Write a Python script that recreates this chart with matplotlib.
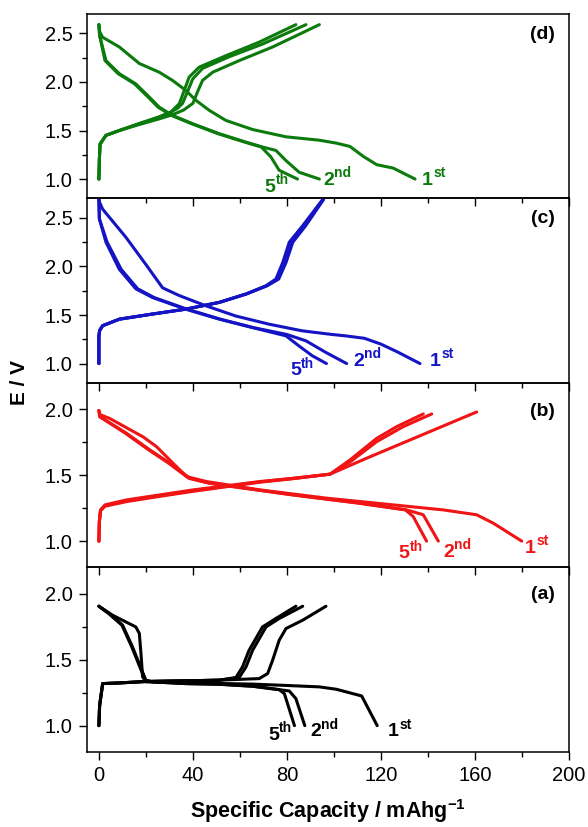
import matplotlib
matplotlib.use("Agg")
import matplotlib.pyplot as plt
from matplotlib.ticker import MultipleLocator, FormatStrFormatter

plt.rcParams['font.family'] = ['Liberation Sans', 'DejaVu Sans']
plt.rcParams['mathtext.fontset'] = 'custom'
plt.rcParams['mathtext.rm'] = 'Liberation Sans'
plt.rcParams['mathtext.bf'] = 'Liberation Sans:bold'
plt.rcParams['mathtext.it'] = 'Liberation Sans:italic'

# ---------------- data (Specific capacity mAh/g, E / V) ----------------
# panel (d) green
d_chg1_x = [0, 0.2, 0.5, 3, 8.7, 17, 25.7, 31, 36, 40, 42, 44.1, 48.4, 59.7, 73.9, 93.8]
d_chg1_y = [1.0, 1.2, 1.36, 1.45, 1.50, 1.56, 1.62, 1.66, 1.71, 1.78, 1.90, 2.016, 2.10, 2.22, 2.36, 2.59]
d_chg2_x = [0, 0.2, 0.5, 3, 8.7, 17, 25.7, 30.6, 33.5, 35.6, 37.7, 39.9, 44.1, 55.5, 69.6, 88.1]
d_chg2_y = [1.0, 1.2, 1.36, 1.45, 1.50, 1.57, 1.64, 1.69, 1.73, 1.78, 1.90, 2.03, 2.14, 2.26, 2.39, 2.59]
d_chg5_x = [0, 0.2, 0.5, 3, 8.7, 17, 25.7, 30.6, 34.2, 36.3, 38.4, 42.7, 54, 68.2, 83.8]
d_chg5_y = [1.0, 1.2, 1.36, 1.45, 1.50, 1.57, 1.64, 1.69, 1.776, 1.913, 2.05, 2.153, 2.27, 2.41, 2.59]
d_dis1_x = [0, 0.3, 1.6, 8.7, 17.2, 25.7, 31.3, 37, 41.3, 47, 54, 65.4, 79.6, 93.8, 101, 106.8, 112.5, 118.2, 125.2, 134.5]
d_dis1_y = [2.59, 2.52, 2.46, 2.36, 2.19, 2.10, 2.016, 1.913, 1.81, 1.707, 1.604, 1.51, 1.435, 1.40, 1.37, 1.336, 1.233, 1.148, 1.113, 1.0]
d_dis2_x = [0, 0.3, 3, 8.7, 15.7, 21.4, 25.7, 31.3, 39.9, 51.2, 62.6, 69.6, 75.3, 79.6, 85.2, 93.8]
d_dis2_y = [2.59, 2.48, 2.22, 2.085, 1.98, 1.845, 1.74, 1.656, 1.57, 1.467, 1.38, 1.33, 1.295, 1.19, 1.07, 1.0]
d_dis5_x = [0, 0.3, 2.6, 8.2, 15.2, 20.9, 25.2, 30.8, 39.4, 50.7, 62.1, 69.1, 73.2, 76.7, 84.5]
d_dis5_y = [2.59, 2.48, 2.22, 2.085, 1.98, 1.845, 1.74, 1.656, 1.57, 1.467, 1.38, 1.33, 1.227, 1.09, 1.0]

# panel (c) blue
c_chg1_x = [0, 0, 0.3, 1.6, 8.7, 22.8, 36.9, 51.2, 62.6, 71.5, 76.5, 79.6, 82.5, 88.0, 95.6]
c_chg1_y = [1.0, 1.28, 1.34, 1.39, 1.457, 1.51, 1.56, 1.63, 1.716, 1.80, 1.87, 2.04, 2.25, 2.42, 2.69]
c_chg2_x = [0, 0, 0.3, 1.6, 8.7, 22.8, 36.9, 51.2, 62.6, 71.2, 75.8, 78.8, 81.6, 87.3, 95.4]
c_chg2_y = [1.0, 1.28, 1.34, 1.39, 1.457, 1.51, 1.56, 1.63, 1.716, 1.80, 1.87, 2.04, 2.25, 2.42, 2.69]
c_chg5_x = [0, 0, 0.3, 1.6, 8.7, 22.8, 36.9, 51.2, 62.6, 71.0, 75.3, 78.2, 81.0, 86.7, 95.2]
c_chg5_y = [1.0, 1.28, 1.34, 1.39, 1.457, 1.51, 1.56, 1.63, 1.716, 1.80, 1.87, 2.04, 2.25, 2.42, 2.69]
c_dis1_x = [0, 0.3, 1.6, 11.5, 20, 27.1, 34.2, 45.5, 58.2, 72.3, 86.5, 99, 105, 113, 120, 127, 136.6]
c_dis1_y = [2.69, 2.66, 2.59, 2.30, 2.02, 1.78, 1.70, 1.595, 1.49, 1.406, 1.337, 1.30, 1.285, 1.26, 1.20, 1.12, 1.0]
c_dis2_x = [0, 0.2, 3.5, 9.5, 16.5, 23.5, 37.5, 51.7, 65.8, 79.9, 88.1, 96.6, 105.4]
c_dis2_y = [2.69, 2.49, 2.25, 1.97, 1.77, 1.68, 1.56, 1.457, 1.37, 1.30, 1.234, 1.114, 1.0]
c_dis5_x = [0, 0.2, 3, 8.7, 15.7, 22.8, 36.9, 51.2, 65.4, 79.6, 85.2, 90.8, 96.8]
c_dis5_y = [2.69, 2.49, 2.25, 1.97, 1.77, 1.68, 1.56, 1.457, 1.37, 1.285, 1.18, 1.08, 1.0]

# panel (b) red
b_chg1_x = [0, 0.2, 0.7, 2.6, 11.8, 26, 40.1, 57.2, 68.5, 82.7, 98.3, 114, 130, 146, 160.7]
b_chg1_y = [1.0, 1.15, 1.23, 1.265, 1.30, 1.34, 1.378, 1.42, 1.447, 1.474, 1.508, 1.63, 1.75, 1.87, 1.98]
b_chg2_x = [0, 0.2, 0.7, 2.6, 11.8, 26, 40.1, 57.2, 68.5, 82.7, 98.3, 106.8, 118.2, 129.5, 141.6]
b_chg2_y = [1.0, 1.15, 1.235, 1.27, 1.307, 1.345, 1.383, 1.423, 1.45, 1.476, 1.508, 1.60, 1.755, 1.869, 1.965]
b_chg5_x = [0, 0.2, 0.7, 2.6, 11.8, 26, 40.1, 57.2, 68.5, 82.7, 98.3, 106.8, 118.2, 126.7, 138]
b_chg5_y = [1.0, 1.15, 1.237, 1.275, 1.313, 1.351, 1.389, 1.427, 1.452, 1.477, 1.508, 1.616, 1.78, 1.869, 1.965]
b_dis1_x = [0, 0.5, 4.7, 18.9, 24.5, 31.6, 37.3, 45.8, 68.5, 96.9, 125.2, 146.5, 160.7, 167.8, 179.9]
b_dis1_y = [1.99, 1.96, 1.93, 1.79, 1.717, 1.59, 1.49, 1.452, 1.389, 1.326, 1.275, 1.237, 1.20, 1.136, 1.0]
b_dis2_x = [0, 0.4, 11.8, 21.7, 30.2, 38.7, 47.2, 57.2, 82.7, 111, 130.9, 138, 144.4]
b_dis2_y = [1.99, 1.944, 1.818, 1.692, 1.591, 1.477, 1.44, 1.414, 1.351, 1.288, 1.237, 1.20, 1.0]
b_dis5_x = [0, 0.4, 11.3, 21.2, 29.7, 38.2, 46.7, 56.7, 82.2, 110.5, 130.4, 133.7, 139.4]
b_dis5_y = [1.99, 1.944, 1.818, 1.692, 1.591, 1.477, 1.44, 1.414, 1.351, 1.288, 1.237, 1.187, 1.0]

# panel (a) black
a_chg1_x = [0, 0.3, 1.6, 8.7, 20, 37, 51.2, 68.2, 71.8, 73.9, 76.7, 79.6, 86.7, 96.6]
a_chg1_y = [1.0, 1.15, 1.319, 1.324, 1.335, 1.340, 1.345, 1.357, 1.395, 1.496, 1.648, 1.737, 1.80, 1.906]
a_chg2_x = [0, 0.3, 1.6, 8.7, 20, 37, 51.2, 59.7, 62.6, 65.4, 71.1, 76.7, 86.7]
a_chg2_y = [1.0, 1.15, 1.319, 1.324, 1.335, 1.340, 1.345, 1.365, 1.446, 1.572, 1.749, 1.813, 1.906]
a_chg5_x = [0, 0.3, 1.6, 8.7, 20, 37, 51.2, 58.3, 61.1, 63.9, 69.6, 75.3, 83.8]
a_chg5_y = [1.0, 1.15, 1.319, 1.324, 1.335, 1.340, 1.345, 1.365, 1.446, 1.572, 1.749, 1.813, 1.906]
a_dis1_x = [0, 5.8, 15.7, 17.2, 17.9, 18.6, 20, 37, 65.4, 79.6, 93.8, 101, 111.8, 118.4]
a_dis1_y = [1.906, 1.838, 1.749, 1.70, 1.547, 1.37, 1.332, 1.325, 1.315, 1.305, 1.294, 1.276, 1.225, 1.0]
a_dis2_x = [0, 4.4, 10.1, 14.3, 20, 22.8, 37, 51.2, 65.4, 76.7, 81, 83.8, 87.6]
a_dis2_y = [1.906, 1.85, 1.762, 1.597, 1.344, 1.332, 1.319, 1.314, 1.299, 1.273, 1.263, 1.205, 1.0]
a_dis5_x = [0, 4.2, 9.8, 14.0, 19.7, 22.8, 37, 51.2, 65.4, 76.7, 78.9, 83.2]
a_dis5_y = [1.906, 1.85, 1.762, 1.597, 1.344, 1.332, 1.319, 1.314, 1.299, 1.273, 1.243, 1.0]

cycle_labels = ['1', '2', '5']
cycle_sups = ['st', 'nd', 'th']
panel_names = ['(d)', '(c)', '(b)', '(a)']
panel_colors = ['#0c7a0c', '#1414c4', '#f01414', '#000000']
panel_ylims = [(0.8, 2.7), (0.8, 2.7), (0.8, 2.2), (0.8, 2.2)]
# label positions (capacity, voltage) for 1st, 2nd, 5th
label_pos = [
    [(137.4, 0.94), (95.3, 0.94), (70.6, 0.87)],
    [(140.9, 0.98), (108.2, 0.98), (81.3, 0.88)],
    [(181.3, 0.91), (146.5, 0.88), (127.4, 0.87)],
    [(123.1, 0.92), (89.8, 0.92), (72.0, 0.89)],
]
panel_tag_y = [0.889, 0.891, 0.848, 0.854]

curves = [
    [(d_chg1_x, d_chg1_y, d_dis1_x, d_dis1_y), (d_chg2_x, d_chg2_y, d_dis2_x, d_dis2_y), (d_chg5_x, d_chg5_y, d_dis5_x, d_dis5_y)],
    [(c_chg1_x, c_chg1_y, c_dis1_x, c_dis1_y), (c_chg2_x, c_chg2_y, c_dis2_x, c_dis2_y), (c_chg5_x, c_chg5_y, c_dis5_x, c_dis5_y)],
    [(b_chg1_x, b_chg1_y, b_dis1_x, b_dis1_y), (b_chg2_x, b_chg2_y, b_dis2_x, b_dis2_y), (b_chg5_x, b_chg5_y, b_dis5_x, b_dis5_y)],
    [(a_chg1_x, a_chg1_y, a_dis1_x, a_dis1_y), (a_chg2_x, a_chg2_y, a_dis2_x, a_dis2_y), (a_chg5_x, a_chg5_y, a_dis5_x, a_dis5_y)],
]

fig = plt.figure(figsize=(5.88, 8.27), dpi=100)
fig.patch.set_facecolor('white')
L, R, T, B = 0.1474, 0.9677, 0.9831, 0.0907
h = (T - B) / 4
axes = []
for i in range(4):
    ax = fig.add_axes([L, T - (i + 1) * h, R - L, h])
    ax.set_facecolor('none')
    axes.append(ax)

digit_fs = 14
sup_fs = 10
for i, ax in enumerate(axes):
    col = panel_colors[i]
    for k, (cx, cy, dx, dy) in enumerate(curves[i]):
        ax.plot(cx, cy, color=col, lw=2.2, solid_joinstyle='round', solid_capstyle='round')
        ax.plot(dx, dy, color=col, lw=2.2, solid_joinstyle='round', solid_capstyle='round')
        lx, ly = label_pos[i][k]
        ax.text(lx, ly, cycle_labels[k], color=col, fontsize=digit_fs,
                fontweight='bold', ha='left', va='baseline')
        ax.annotate(cycle_sups[k], xy=(lx, ly), xytext=(0.556 * digit_fs + 0.3, 5.5),
                    textcoords='offset points', color=col, fontsize=sup_fs,
                    fontweight='bold', ha='left', va='baseline')
    ax.text(0.971, panel_tag_y[i], panel_names[i], transform=ax.transAxes,
            ha='right', va='center', fontsize=14, fontweight='bold')
    ax.set_xlim(-5.2, 200)
    ax.set_ylim(*panel_ylims[i])
    ax.xaxis.set_major_locator(MultipleLocator(40))
    ax.xaxis.set_minor_locator(MultipleLocator(20))
    ax.yaxis.set_major_locator(MultipleLocator(0.5))
    ax.yaxis.set_minor_locator(MultipleLocator(0.25))
    ax.tick_params(which='major', direction='out', length=6, width=1.0, labelsize=14.5, pad=4)
    ax.tick_params(which='minor', direction='out', length=3.5, width=1.0)
    ax.tick_params(axis='x', which='both', top=False)
    ax.tick_params(axis='y', which='both', right=False)
    for sp in ax.spines.values():
        sp.set_linewidth(1.1)
    if i < 3:
        ax.tick_params(axis='x', labelbottom=False)
    ax.yaxis.set_major_formatter(FormatStrFormatter('%.1f'))

axes[-1].set_xticks([0, 40, 80, 120, 160, 200])
fig.text(0.558, 0.011, r'Specific Capacity / mAhg$^{\mathbf{-1}}$', ha='center', va='baseline',
         fontsize=15.5, fontweight='bold')
fig.text(0.034, (T + B) / 2, 'E / V', rotation=90, ha='center', va='center',
         fontsize=15, fontweight='bold')

fig.savefig('out.png', dpi=100, facecolor='white')
